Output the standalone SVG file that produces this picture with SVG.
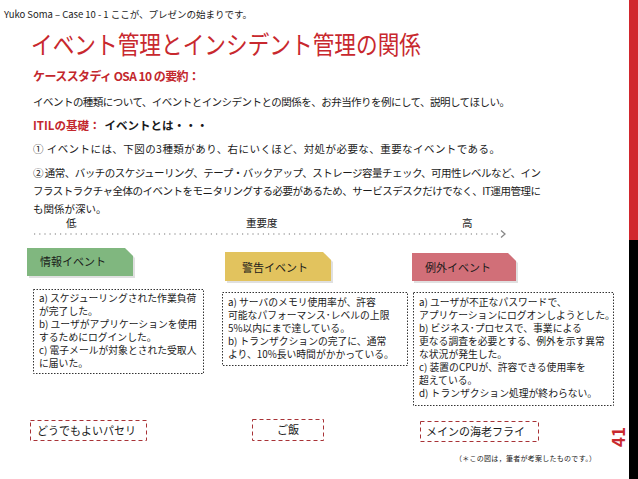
<svg xmlns="http://www.w3.org/2000/svg" width="638" height="479" viewBox="0 0 638 479">
<style>
text{font-family:"Noto Sans CJK JP","Noto Sans",sans-serif;fill:#1a1a1a}
.t{font-size:10.5px}
.red{fill:#c3272d}
.b{font-weight:bold}
.box{fill:none;stroke:#333;stroke-width:1;stroke-dasharray:1.5 1.5}
.dash{fill:none;stroke:#a83236;stroke-width:1;stroke-dasharray:4 3}
.bt{font-size:9.8px}
.lbl{font-size:11px}
.sh{fill:#000;opacity:0.12}
</style>
<rect width="638" height="479" fill="#fff"/>
<rect x="629" y="0" width="9" height="240" fill="#d1272d"/>
<rect x="629" y="240" width="9" height="239" fill="#000"/>
<text x="4" y="18" style="font-size:9.5px" textLength="248">Yuko Soma – Case 10 - 1 ここが、プレゼンの始まりです。</text>
<text x="31" y="54" class="red" style="font-size:25px;fill:#c8282e" textLength="390" lengthAdjust="spacingAndGlyphs">イベント管理とインシデント管理の関係</text>
<text x="33" y="81" class="red b" style="font-size:12px" textLength="167">ケーススタディ OSA 10 の要約：</text>
<text x="33" y="106" class="t" textLength="477">イベントの種類について、イベントとインシデントとの関係を、お弁当作りを例にして、説明してほしい。</text>
<text x="33" y="130" class="b" style="font-size:11.5px"><tspan class="red">ITILの基礎：</tspan><tspan dx="4">イベントとは・・・</tspan></text>
<text x="33" y="153" class="t" textLength="467">①  イベントには、下図の3種類があり、右にいくほど、対処が必要な、重要なイベントである。</text>
<text x="33" y="177" class="t" textLength="508">②  通常、バッチのスケジューリング、テープ・バックアップ、ストレージ容量チェック、可用性レベルなど、イン</text>
<text x="33" y="195" class="t" textLength="508">フラストラクチャ全体のイベントをモニタリングする必要があるため、サービスデスクだけでなく、IT運用管理に</text>
<text x="33" y="213" class="t">も関係が深い。</text>
<g id="scale">
<text x="66" y="227" class="t">低</text>
<text x="246" y="227" class="t">重要度</text>
<text x="462" y="227" class="t">高</text>
<line x1="34" y1="234" x2="500" y2="234" stroke="#777" stroke-width="1.2" stroke-dasharray="1.2 4"/>
<path d="M501 230.5 L505 234 L501 237.5" fill="none" stroke="#888" stroke-width="1.3"/>
</g>
<g id="info">
<path class="sh" d="M29 250 h98 l8 8 v20 h-106 z"/>
<path d="M27 248 h98 l8 8 v20 h-106 z" fill="#80b77f"/>
<text x="40" y="266" class="lbl">情報イベント</text>
</g>
<g id="warn">
<path class="sh" d="M227 254 h98 l8 8 v21 h-106 z"/>
<path d="M225 252 h98 l8 8 v21 h-106 z" fill="#e2c35e"/>
<text x="242" y="272" class="lbl">警告イベント</text>
</g>
<g id="exc">
<path class="sh" d="M414 255 h96 l8 8 v20 h-104 z"/>
<path d="M412 253 h96 l8 8 v20 h-104 z" fill="#d16f78"/>
<text x="425" y="272" class="lbl">例外イベント</text>
</g>
<g id="desc1">
<rect x="33.5" y="289.5" width="170" height="84" class="box"/>
<text class="bt" x="39" y="302">a)  スケジューリングされた作業負荷</text>
<text class="bt" x="39" y="315">が完了した。</text>
<text class="bt" x="39" y="328">b)  ユーザがアプリケーションを使用</text>
<text class="bt" x="39" y="341">するためにログインした。</text>
<text class="bt" x="39" y="354">c)  電子メールが対象とされた受取人</text>
<text class="bt" x="39" y="367">に届いた。</text>
</g>
<g id="desc2">
<rect x="222.5" y="292.5" width="185" height="73" class="box"/>
<text class="bt" x="228" y="306">a)  サーバのメモリ使用率が、許容</text>
<text class="bt" x="228" y="319">可能なパフォーマンス･レベルの上限</text>
<text class="bt" x="228" y="332">5%以内にまで達している。</text>
<text class="bt" x="228" y="345">b)  トランザクションの完了に、通常</text>
<text class="bt" x="228" y="358">より、10%長い時間がかかっている。</text>
</g>
<g id="desc3">
<rect x="413.5" y="292.5" width="200" height="113" class="box"/>
<text class="bt" x="419" y="306">a)  ユーザが不正なパスワードで、</text>
<text class="bt" x="419" y="319">アプリケーションにログオンしようとした。</text>
<text class="bt" x="419" y="332">b)  ビジネス･プロセスで、事業による</text>
<text class="bt" x="419" y="345">更なる調査を必要とする、例外を示す異常</text>
<text class="bt" x="419" y="358">な状況が発生した。</text>
<text class="bt" x="419" y="371">c)  装置のCPUが、許容できる使用率を</text>
<text class="bt" x="419" y="384">超えている。</text>
<text class="bt" x="419" y="397">d)  トランザクション処理が終わらない。</text>
</g>
<g id="parsley">
<rect x="30.5" y="420.5" width="116" height="20" class="dash"/>
<text x="37" y="435" class="lbl">どうでもよいパセリ</text>
</g>
<g id="rice">
<rect x="252.5" y="419.5" width="71" height="21" class="dash"/>
<text x="277" y="434" class="lbl">ご飯</text>
</g>
<g id="shrimp">
<rect x="420.5" y="421.5" width="118" height="20" class="dash"/>
<text x="426" y="436" class="lbl">メインの海老フライ</text>
</g>
<text x="455" y="461" style="font-size:7px" textLength="141">（＊この図は，筆者が考案したものです。）</text>
<text transform="translate(625,447) rotate(-90)" class="b" style="font-size:17px;fill:#c8282e">41</text>
</svg>
